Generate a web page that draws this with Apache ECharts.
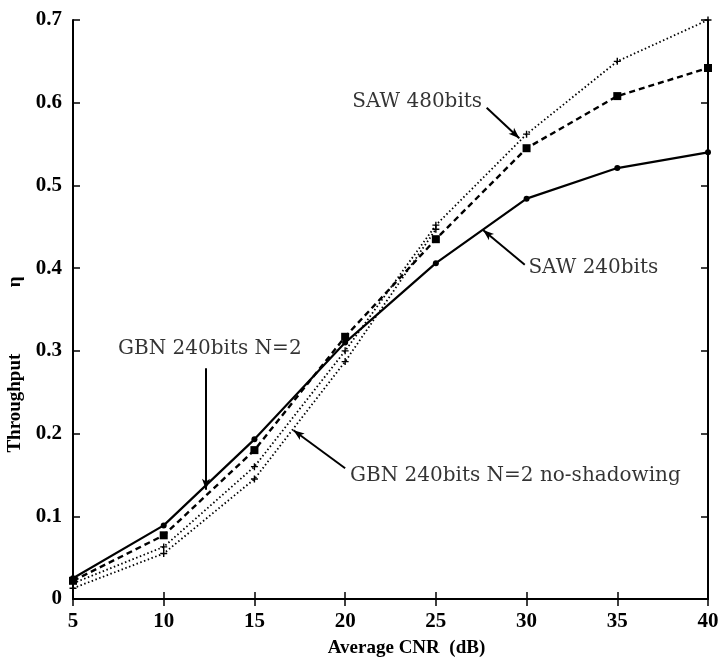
<!DOCTYPE html>
<html>
<head>
<meta charset="utf-8">
<script src="https://cdn.jsdelivr.net/npm/echarts@6/dist/echarts.min.js"></script>
<style>
  html, body { margin: 0; padding: 0; background: #fff; }
  #chart { width: 724px; height: 660px; }
</style>
</head>
<body>
<div id="chart"></div>
<script>
// x values (Average CNR, dB)
var cnr = [5, 10, 15, 20, 25, 30, 35, 40];
var cnrShort = [5, 10, 15, 20, 25];

// throughput values
var saw240 = [0.025, 0.089, 0.193, 0.310, 0.406, 0.484, 0.521, 0.540];
var gbn240 = [0.022, 0.077, 0.180, 0.317, 0.435, 0.545, 0.608, 0.642];
var saw480 = [0.019, 0.063, 0.160, 0.300, 0.452, 0.562, 0.650, 0.700];
var gbnNoShadow = [0.013, 0.055, 0.145, 0.287, 0.447];

var yTicks = ['0', '0.1', '0.2', '0.3', '0.4', '0.5', '0.6', '0.7'];

// annotations: label, anchor point, which side of the anchor, arrow from / to
var noteText = ['SAW 480bits', 'SAW 240bits', 'GBN 240bits N=2', 'GBN 240bits N=2 no-shadowing'];
var noteAnchor = [[27.55, 0.601], [30.1, 0.400], [17.6, 0.302], [20.27, 0.149]];
var noteSide = ['left', 'right', 'left', 'right'];
var arrowFrom = [[27.8, 0.594], [29.9, 0.404], [12.33, 0.279], [20.0, 0.158]];
var arrowTo = [[29.6, 0.557], [27.6, 0.446], [12.33, 0.132], [17.15, 0.204]];

var serif = '"Liberation Serif", "DejaVu Serif", serif';
var plus = 'path://M4,0H6V4H10V6H6V10H4V6H0V4H4Z';

function pairs(xs, ys) {
    return ys.map(function (v, i) { return [xs[i], v]; });
}

var chart = echarts.init(document.getElementById('chart'));

var notes = noteText.map(function (t, i) {
    return {
        value: noteAnchor[i],
        label: {show: true, formatter: t, position: noteSide[i], distance: 0}
    };
});
var arrows = arrowFrom.map(function (f, i) {
    return [{coord: f}, {coord: arrowTo[i]}];
});

var tickCommon = {show: true, inside: true, length: 7, lineStyle: {color: '#000', width: 1.5}};

chart.setOption({
    animation: false,
    backgroundColor: '#fff',
    grid: {left: 73, right: 16, top: 20, bottom: 61, containLabel: false, outerBoundsMode: 'none'},
    xAxis: [{
        type: 'value', min: 5, max: 40, interval: 5,
        name: 'Average CNR  (dB)', nameLocation: 'middle', nameGap: 40,
        nameTextStyle: {fontFamily: serif, fontWeight: 'bold', fontSize: 19, color: '#000', padding: [0, 0, 0, 32]},
        axisLine: {show: true, lineStyle: {color: '#000', width: 2}},
        axisTick: tickCommon,
        axisLabel: {fontFamily: serif, fontWeight: 'bold', fontSize: 21, color: '#000', margin: 12},
        splitLine: {show: false}
    }, {
        type: 'value', min: 5, max: 40, interval: 5, position: 'top',
        axisLine: {show: true, lineStyle: {color: '#000', width: 2}},
        axisTick: tickCommon,
        axisLabel: {show: false},
        splitLine: {show: false}
    }],
    yAxis: [{
        type: 'value', min: 0, max: 0.7, interval: 0.1,
        name: 'Throughput              \u03b7', nameLocation: 'middle', nameGap: 46, nameRotate: 90,
        nameTextStyle: {fontFamily: serif, fontWeight: 'bold', fontSize: 19, color: '#000', padding: [0, 110, 0, 0]},
        axisLine: {show: true, lineStyle: {color: '#000', width: 2}},
        axisTick: tickCommon,
        axisLabel: {
            fontFamily: serif, fontWeight: 'bold', fontSize: 21, color: '#000', margin: 11,
            formatter: function (v) { return yTicks[Math.round(v * 10)]; }
        },
        splitLine: {show: false}
    }, {
        type: 'value', min: 0, max: 0.7, interval: 0.1, position: 'right',
        axisLine: {show: true, lineStyle: {color: '#000', width: 2}},
        axisTick: tickCommon,
        axisLabel: {show: false},
        splitLine: {show: false}
    }],
    series: [{
        name: 'SAW 240bits', type: 'line', data: pairs(cnr, saw240),
        symbol: 'circle', symbolSize: 6,
        itemStyle: {color: '#000'},
        lineStyle: {color: '#000', width: 2.2, type: 'solid'}
    }, {
        name: 'GBN 240bits N=2', type: 'line', data: pairs(cnr, gbn240),
        symbol: 'rect', symbolSize: 8,
        itemStyle: {color: '#000'},
        lineStyle: {color: '#000', width: 2.4, type: [6, 4]}
    }, {
        name: 'SAW 480bits', type: 'line', data: pairs(cnr, saw480),
        symbol: plus, symbolSize: 7,
        itemStyle: {color: '#000'},
        lineStyle: {color: '#000', width: 1.8, type: [1.5, 2.5]}
    }, {
        name: 'GBN 240bits N=2 no-shadowing', type: 'line', data: pairs(cnrShort, gbnNoShadow),
        symbol: plus, symbolSize: 7,
        itemStyle: {color: '#000'},
        lineStyle: {color: '#000', width: 1.8, type: [1.5, 2.5]}
    }, {
        name: 'notes', type: 'scatter', data: notes,
        symbolSize: 0, silent: true,
        label: {fontFamily: '"DejaVu Serif", serif', fontSize: 20, color: '#000'},
        markLine: {
            silent: true, symbol: ['none', 'arrow'], symbolSize: [6, 11],
            label: {show: false},
            lineStyle: {color: '#000', width: 2, type: 'solid'},
            data: arrows
        }
    }]
});
</script>
</body>
</html>
